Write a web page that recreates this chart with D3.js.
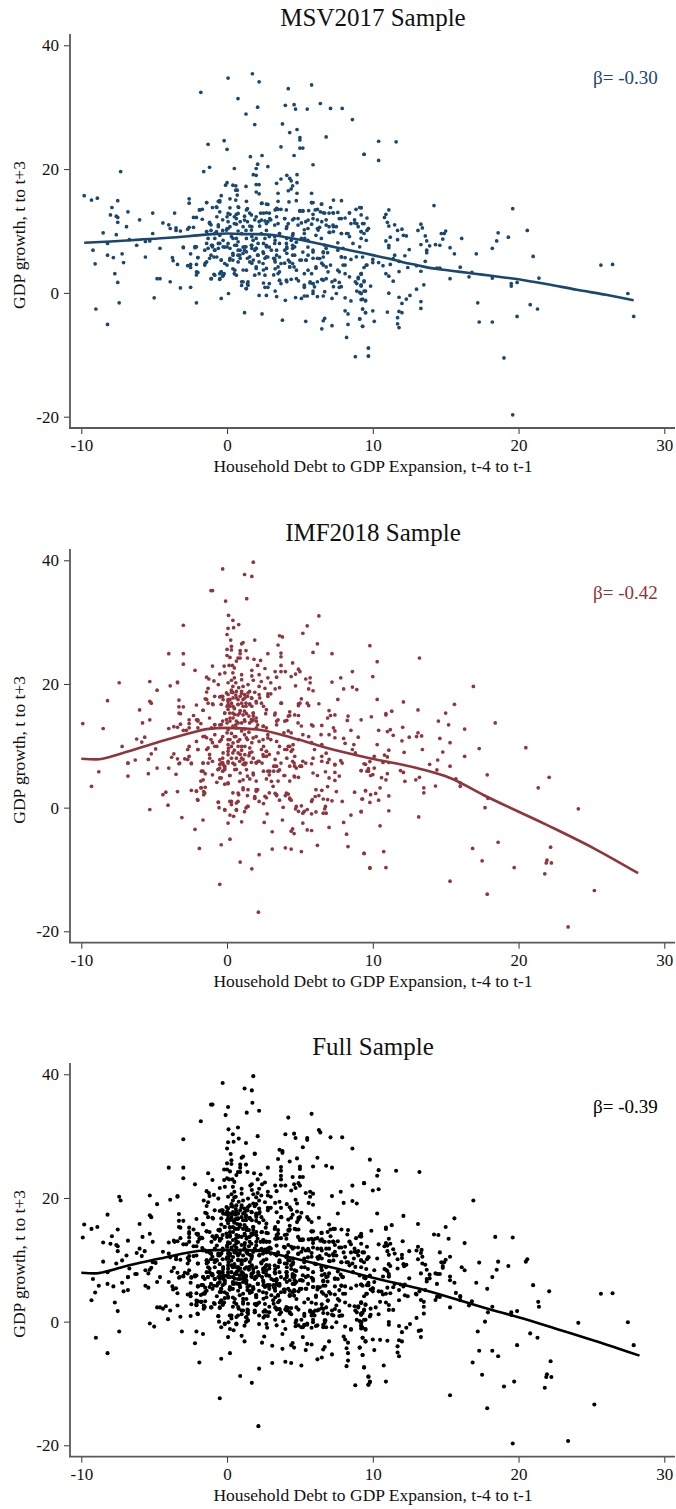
<!DOCTYPE html>
<html>
<head>
<meta charset="utf-8">
<script src="https://cdn.jsdelivr.net/npm/d3@7"></script>
<style>
body { margin: 0; background: #fff; }
text { font-family: "Liberation Serif", serif; fill: #111; }
</style>
</head>
<body>
<div id="container"></div>
<script>
// tick labels
var xTicks = [-10, 0, 10, 20, 30];
var yTicks = [-20, 0, 20, 40];
var xLabel = "Household Debt to GDP Expansion, t-4 to t-1";
var yLabel = "GDP growth, t to t+3";

// [debt expansion, gdp growth]
var msvPoints = [
[.07,34.7],[1.74,35.4],[2.2,34.1],[-1.8,32.4],[4.2,33],[5.8,33.6],[.75,31.4],[6.4,30.6],[2.1,30],[4,30.3],[4.6,30.4],[4.7,29.7],[5.5,29.7],[7.1,29.8],[7.9,29.8],[1.3,28.9],[8.6,28],[1.9,27.2],[3.8,27.3],[4.8,26.4],[4.3,25.9],[5,25.1],[5,24.7],[6.8,25.2],[-.2,24.6],[-1.3,24],[3.7,23.6],[5,23.4],[5.2,23.4],[0,23.2],[9.4,22.4],[2.4,22.2],[1.6,22],[4.6,22.2],[2.1,20.8],[5.9,20.7],[2,20.1],[2.8,20.4],[.5,20.1],[-1.2,20.3],[-1.6,19.6],[-7.3,19.6],
[1.8,19.1],[2,19],[4.1,19],[4.8,19.1],[4.3,18.5],[3.7,18.4],[4.4,18.1],[0,17.8],[3.4,17.7],[4.8,17.8],[2,17.5],[2.2,17.5],[-.1,17.4],[.4,17.4],[.6,17.3],[1.3,17.2],[4.5,17.3],[.6,16.6],[.7,16.6],[4.4,16.8],[4.2,16.5],[3.5,16.1],[2,16.3],[2.2,16],[.7,15.8],[4.8,16.1],[5.8,16.1],[-.4,15.7],
[-9.8,15.7],[-9.3,15],[-8.9,15.3],[-7.5,14.9],[-7.9,13.8],[-8,12.6],[-7.6,12.4],[-7.5,12.2],[-6.8,13.1],[-5.1,12.9],[-3.6,12.9],[-7.5,11.4],[-6,11.8],[-6.9,10.7],[-8.5,9.7],[-7.6,9.4],[-4.4,11.3],[-4,11],[-3.9,10.4],[-3.5,10.5],[-3.5,10.1],[-3.2,10],[-5.1,9.6],[-6.7,8.6],[-8.2,8],[-5.6,8.3],[-5.3,8.4],
[-2.6,15.2],[-2.6,14.5],[-1.4,14.6],[-.5,14.9],[-.5,14.7],[.2,15.2],[.6,15],[-1,13.8],[-.7,13.8],[-1.9,13.4],[-1.7,13.5],[-2.3,12.2],[-2.1,12.2],[-1.7,11.9],[-2.7,10.3],[-2.6,10.6],[-2.3,10.6],
[.2,13.75],[.8,13.8],[1.4,13.6],[2.4,14.5],[2.8,14.3],[3.3,13.4],[3.5,13.5],[3.7,13.5],[4.25,14.7],[4.75,14.9],[5.8,14.6],[5.9,14.6],[6.5,14.35],[7.3,15],[7.85,14.9],[7.1,13.8],[9.2,13.75],[8.85,13.5],[6.05,13.4],[6.2,13.5],[5,13.2],[5.2,13.2],[5.6,13.3],[6.4,13.1],[6.7,12.9],[7,12.9],[7.3,12.9],[7.6,13],[8.4,12.9],[2.3,12.9],[2.5,12.9],[2.9,12.9],[1.2,12.4],[1.55,12.9],[.2,12.7],[.64,12.7],[.5,12.3],[0,12.3],[-.7,12.3],[-1.2,11.4],[-1.1,11],[-.6,11],[-.3,11.8],[.07,11.5],[.2,10.7],[.5,11.2],[.9,11.5],[1.1,10.7],[1.4,11.5],[1.7,10.7],[1.9,11.8],[2.2,11.5],[2.6,11.65],[2.8,11.5],[3,11.8],[3.4,12.3],[3.5,11.2],[3.95,12],[4.1,10.7],[4.5,11.8],[4.6,12],[5.1,11.3],[5.4,11.5],[5.3,10.2],[5.55,10.4],[5.9,12],[6.2,11.8],[6.5,11.5],[6.8,11.8],[7,10.7],[7.3,10.7],[7.5,10.7],[7.7,12],[8.1,12.1],[8.5,11.2],[8.75,11.8],[8.9,11.2],[9,10.7],[9.3,11.2],[9.7,10.4],[9.2,9.9],[9.4,9.6],[8.2,9.6],[7.85,9.6],[9.2,8.8],[9.55,8.5],[8.4,9.1],[7.3,9.9],[7,9.8],[6.2,10.4],[6.35,10.6],
[-1.4,9.9],[-1.1,10.1],[-.85,9.6],[-.5,9.3],[-.3,10.1],[0,10.4],[.3,9.1],[.64,8.8],[1,9.6],[1.3,10.1],[1.7,9.1],[2,8.8],[2.35,9.6],[2.7,10.1],[2.9,9.1],[3.3,8.5],[3.6,9.6],[4.1,8.8],[4.5,9.3],[4.75,8.2],[5.1,8.8],[5.55,8.5],[6.1,9.3],[-1.4,8],[-1,7.7],[-.6,8],[-.16,7.4],[.2,7.2],[.64,7.7],[1.1,7.4],[1.7,7.7],[2,7.2],[2.5,8],[2.9,7.4],[3.6,8],[4.1,7.2],[4.5,7.7],[5.55,7.4],[-3,7.4],[-2.2,7.5],
[-9.2,6.9],[-9.05,4.7],[-9,-2.6],[-8.2,-5.1],[-8.2,6.1],[-7.8,5.7],[-7.2,6.3],[-7.1,4.9],[-7.7,3.1],[-7.5,1.7],[-7.4,-1.6],[-6.2,7.7],[-5.6,5.8],[-4.6,7.2],[-4.8,2.3],[-4.6,2.3],[-5,-.8],[-3.9,1.8],[-3.75,5.7],[-3.7,5.2],[-3.4,4.6],[-3.2,.8],[-2.5,.9],[-2.1,-1.6],[-3,7.3],[-2.5,6.3],[-2.2,7.3],[-2,5.7],[-2.1,4.6],[-2.7,4.4],[-2.5,4.6],[-2.5,4.1],[-2,3.3],[-2.1,2.9],[-1.5,4.8],[-1.1,2.3],[-.9,3],[-.5,2.3],[-.4,-.9],[.1,-.1],[-.4,3.4],[-.2,3.1],[-.5,3.1],[-.3,2.7],[1.2,-3.2],[2.4,-3.4],[3.8,-4.4],[5.4,-4.6],[6.5,-5.8],[6.6,-4.5],[6.7,-4.1],[7.2,-5.3],[8.2,-7.2],[8.3,-5.1],[8.8,-10.3],[9.7,-10.2],[9.7,-8.9],[9.3,-5.4],[9.1,-4.2],[8.1,-2.9],[8.3,-3.4],[9.3,-2.6],[9.5,-3.2],
[2.2,-.4],[2.7,-.4],[3.4,-.6],[3.3,.3],[4,-1.2],[4.7,-.75],[5.1,-.9],[5.3,-.5],[5.5,-.5],[5.9,-.1],[6.2,-.6],[6.6,-.5],[5.9,.3],[6.7,.2],[7.2,-.9],[7.5,-.1],[8.1,-.8],[8.5,-1.3],[9.2,-1.1],[9.5,-1.2],[8.9,.3],[9.1,.1],[9.2,-.1],[9.5,.3],[1,1.2],[1.3,.7],[1.4,1.5],[1.1,1.8],[2.5,1.6],[2.9,1.5],[2.6,.9],[2.8,.9],[3.6,2],[3.7,1.5],[4.1,1.8],[4.4,2.2],[4.9,1.95],[5.3,1.25],[5.3,.9],[5.7,1.6],[5.9,1.5],[6,.98],[6.2,1.8],[6.5,2.2],[6.8,2.3],[7.2,1.8],[7.3,1],[7.7,.9],[7.7,1.7],[8.8,1.8],[8.9,1.5],[9.2,1.25],[9.4,1.95],[9.2,3.1],[9,2.5],[8.4,2.6],[8.1,3.1],[7.7,3.4],[7.1,4.5],[6.8,4.2],[6.5,4.8],[6.6,5.8],[6.9,6.5],[6.6,6.5],[6.1,4],[5.8,3.1],[5.3,3.1],[4.6,4.2],[4.3,4.2],[3.95,4.8],[3.6,3.4],[3.3,3.9],[3.2,2.9],[2.5,3.7],[2.2,3.1],[2,4.2],[1.7,4.8],[1.1,3.7],[.5,3.1],[.4,3.9],[0,4.5],
[-1,7.45],[-.85,6.9],[-1.1,6.1],[-.7,5.8],[-.4,5.3],[-.16,4.75],[.2,5.6],[.4,6.4],[.75,6.1],[1.1,6.4],[1.4,5.6],[1.8,5.3],[2.1,6.1],[2.5,6.4],[2.8,5.8],[3.2,5.6],[3.4,6.1],[3.7,4.75],[4.1,6.4],[4.5,6.1],[5,5.3],[5.4,5.3],[5.9,5.6],[6.2,5.6],[7.85,5.8],[8.1,5.7],[8.5,5.4],[8.1,4.5],[9.55,4.5],[9.3,5.8],[0,7.45],[.64,7.7],[1.3,7.45],[2,7.2],[2.7,7.45],[3.4,6.9],[4.1,7.45],[4.5,7.2],[5.2,6.6],[5.9,6.6],[6.8,7.2],[.9,6.9],[1.2,6.9],[1.7,7.2],[.9,5.6],[.4,5.3],[2.2,5],[2.6,5.6],[3.3,5],[3.6,5.8],[4.2,5.3],[4.5,4.75],[-.6,7.2],[-1.3,7.2],[-1.2,5.6],[-.9,5.8],
[10.4,24.5],[11.6,24.4],[9.4,22.4],[10.4,21.4],[14.2,14.1],[19.6,13.6],[11.1,13.4],[9.2,13.8],[10.9,12.7],[10.8,12.2],[9.6,12.1],[11,11.4],[11.1,10.8],[11.5,11],[13.3,11.1],[13.4,10.5],[9.4,11.2],[9.7,10.4],[9.6,10.1],[11.7,10.1],[12,10.3],[13.1,10.1],[14.7,9.6],[14.9,9.6],[15,10],[20.6,10.1],[18.6,9.7],[19.3,9],[18.5,8.4],[18.2,7.2],[16.1,8.8],[13.6,9.2],[14.8,8.7],[13.7,8.4],[13.3,7.8],[13.9,7.6],[14.3,7.8],[14.6,7.7],[15.3,7.3],[15.6,6.3],[17.1,6.3],[13.7,6.9],[13.7,6.5],[12.5,7],[12.2,6],[12.1,9.3],[12.3,9.2],[11.2,9],[10.9,8.4],[11.7,8.6],[11.1,7.7],[11.1,7.3],[11.5,6.1],[11.4,5.55],[11.8,5.1],[11.2,4.6],[10.7,4.4],[10.4,4.9],[10,5.4],[10,4.9],[9.4,4.1],[9.6,4.5],[13.6,5.1],[13,4.4],[12.4,4.1],[13.3,3.5],[11.8,3.45],[10.9,3.1],[11.1,2.7],[11.4,1.9],[13.5,1.3],[14.4,4],[14.6,4],[16,4.15],[15.3,2.3],[16.6,2.6],[16.8,3.3],[18.2,2.4],[19.5,1.5],[19.5,1.1],[19.9,1.7],[21.4,2.4],[21,5.9],[25.65,4.5],[26.45,4.6],[27.5,-.1],[27.9,-3.8],[17.2,-1.6],[17.3,-4.7],[18.2,-4.7],[20.8,-1.9],[21.3,-2.6],[19.9,-3.8],[19,-10.5],[19.6,-19.7],[9.85,1.1],[9.2,3],[9.4,1.8],[9.2,1.1],[9.4,.3],[9.2,-.1],[9.3,-1],[9.5,-1.3],[9.3,-2.6],[9.5,-3.2],[10,-2.9],[9.1,-4.2],[10.1,-4.6],[9.3,-5.4],[9.7,-8.9],[9.7,-10.2],[11.1,-.05],[11,-3.1],[11.8,-.7],[12,-1.7],[11.8,-3],[12,-3.2],[11.7,-4],[11.7,-5],[11.8,-5.6],[12.3,-1],[12.55,-.4],[13,.6],[13.3,-1.4],[13.3,-2.5]
];

var msvCorePoints = [
[-1.4,14.6],[-.6,14.8],[.76,13.9],[1.33,14.8],[2.36,14.46],[2.7,14.35],[3.5,14.8],[5.8,14.6],[6.47,14.35],[9.1,13.8],[-1.87,13.4],[-.73,13.9],[-.5,13.1],[.07,12.84],[.76,12.84],[1.33,13.4],[1.67,12.6],[2.7,12.95],[3.4,13.65],[4.07,13.4],[4.99,13.3],[5.2,13.3],[5.9,12.7],[6.6,12.95],[7.27,12.95],[8.4,12.95],[9.2,12.6],[.64,12],[1.2,11.76],[2,12.3],[2.36,11.76],[2.93,12],[3.96,12],[4.2,11.2],[4.87,12],[5.56,11.76],[5.8,11.1],[6.8,10.95],[7.27,10.95],[8.76,11.3],[7.84,12],[-1.2,11.2],[-.6,10.7],[.07,10.4],[.64,11.1],[1.56,10.8],[2.24,10.8],[2.7,11.2],[3.27,10.95],[4.07,10.4],[4.87,10.95],[6.25,10.15],[7.05,9.77],[7.84,9.6],[8.3,9.6],[9.2,9.9],[-1.4,9.9],[-.73,9.9],[-.04,10.15],[.76,10],[1.67,10.15],[3.6,9.6],[4.53,9.6],[5.3,9.6],
[-1.3,8.8],[-.84,8.8],[-.27,8.5],[.41,8.8],[.76,8.26],[1.33,8.8],[1.79,8.5],[2.6,8.8],[3.27,9.07],[4.4,8.5],[5.33,8.8],[6.47,8.8],[7.6,8.1],[8.64,8],[-2.1,7.45],[-1.07,7.7],[-.5,8],[.07,8],[.53,7.7],[1.2,7.45],[1.67,7.7],[2.13,8],[2.7,7.7],[3.27,8],[4.07,8],[4.64,7.45],[6.7,7.7],[7.6,6.9],[9.1,7.45],[-1.53,6.9],[-.84,6.9],[-.27,7.45],[.76,6.9],[1.33,6.64],[1.9,6.9],[2.47,6.64],[3.04,6.9],[3.96,6.9],[5.9,6.9],[6.6,6.64],[7.96,7.2],[.41,6.1],[.87,6.1],[1.56,5.83],[2.13,6.1],[2.7,5.83],[3.27,5.56],[4.64,6.1],[5.56,6.1],[6.36,5.56],[7.84,5.83],[8.87,5.83],[-2,5.7],[-1.4,5],[-1.53,4.5],[-.4,5.3],[.18,5.3],[.76,5],[1.56,5],[2.47,4.75],[3.27,5.3],[4.3,5],[5.1,5.3],[5.44,5.3],[6.6,4.5],[7.96,4.5],[-2.1,3.4],[.53,3.67],[1.33,3.67],[2,3.95],[2.7,3.95],[3.5,4.2],[4.3,4.2],[6.1,4.2],[-.84,2.86],[-.4,3.4],[-.27,2.86],[.64,2.86],[1.9,2.86],[2.6,2.86],[3.5,3.13],[4.76,3.67],[5.56,3.67],[6.93,3.4],[7.6,3.67],[9.2,3.13],[-1.07,2.3],[-.5,2.2],[1,1.8],[1.44,1.8],[1.44,1.25],[3.6,2.05],[4.07,2.05],[4.76,2.3],[5.7,1.8],[5.9,1.5],[6.6,2.05],[7.4,2.05],[9,2.3],[7.84,1],[9.2,1.25],[1.33,.7]
];

var imfPoints = [
[1.8,39.7],[-.3,38.6],[1.2,37.7],[1.7,37.4],[-1.1,35.1],[-1,35.1],[-.1,33.4],[1.35,33.8],[.1,31.1],[.4,30.3],[.8,29.6],[.45,29.1],[.07,29],[0,28],[-3,29.5],[5.5,29.4],[6.3,31],[5.2,28.2],[3.6,27.8],[3.8,27.6],[1.9,27.1],[.25,27.1],[6.2,26.5],[3.5,26.3],[1,26.5],[1.1,26.7],[.3,26.1],[0,25.6],[.3,25.5],[.9,25.4],[1.3,25.4],[.9,24.9],[-4,24.9],[-3,24.9],[2.8,24.9],[3.7,25],[5.9,25.1],[7.2,24.9],[9.8,26.2],[3.7,24.4],[0,24.6],[.2,24.3],[.75,24.2],[.9,24.2],[1.4,24.2],[1.85,24],[2.3,23.8],[.64,23.7],[-3,23.2],[-.2,22.9],[-1,22.9],[.14,23],[.37,23],[.5,22.6],[2.1,23],[3.7,23],[4.5,23.4],[2.6,22.5],[3.7,22],[3.3,22],[4,22],[1.7,22.2],[-2.2,22.2],[4.9,22.4],[5,22],[8.6,22],[4.7,21.6],[4.4,21.2],[7.8,21],[-.5,21.6],[-.15,21.8],[.4,21.8],[1,21.5],[1.7,21.3],[2.2,21.5],[3.4,21.1],[5.4,20.8],[5.7,21],[-1.4,21.1],[-1.25,20.8],[-.9,20.5],[-.6,19.9],[.3,20.6],[.5,21],[1,20.7],[1.8,20.6],[2.35,20.4],[2.8,21],[5.7,20.2],[7.2,20.3],[4.7,19.7],[-3.4,20.2],[-3.4,20.3],[-3.9,19.7],[-5.3,20.4],[-7.4,20.2],[-4.8,19],[-1.3,19.3],[-1.4,18.7],[.07,20.2],[.4,19.6],[.6,20.2],[1.1,19.6],[1.44,19.9],[2.2,19.6],[2.6,19.3],[3,20.2],[3.3,19.2],[3.6,19.4],[5.6,19.2],[5.9,18.9],[8,19.2],[8.6,19.5],[8.9,19.1],
[-8.2,17.3],[-5.3,17.2],[-5.2,16.9],[-3.3,17.4],[-1.5,17.6],[-.85,18],[-.5,17.9],[-.3,18],[.07,18.3],[.6,18.2],[.9,18],[1.2,18.3],[1.7,17.7],[2.2,18.3],[2.8,18.4],[3,18.4],[5.1,17.6],[7.6,17.5],[5.5,16.9],[5.6,16.5],[4.9,16.8],[4.9,16.5],[6.3,16.8],[3.7,16.9],[-2.1,16.6],[-3.3,16.3],[-3,16.3],[-1,16.8],[-.4,16.7],[.07,17.2],[.2,16.4],[.5,16.1],[.75,16.7],[1.1,17.5],[1.55,16.8],[2,17.2],[2.5,16.4],[-6,15.8],[-1.65,15.75],[-3.3,15.3],[-3.2,15.2],[-2.3,14.9],[-1.2,14.5],[-.16,15.3],[.4,15.3],[.75,15],[1.2,15.6],[1.8,15.3],[2.65,15.2],[3.3,15.3],[3.5,14.2],[4.3,15.5],[4.3,14.9],[4.9,14.9],[7,15.7],[7.4,15],[7.1,14.9],[8.3,14.8],[8.25,14.1],[9.2,14.2],[6.9,14.5],[-5.8,13.7],[-5.3,14.2],[-9.9,13.6],[-8.5,12.8],[-4,12.8],[-3.65,13.1],[-3.4,13],[-3.2,13.5],[-2.6,14.2],[-2.6,13.6],[-2.6,12.9],[-2.1,14.2],[-2,14],[-1.8,13.6],[-2,12.9],[-3,12.5],[-2.8,12.5],[-.85,13.4],[-.3,14],[.2,14.5],[.64,14],[1.2,14.2],[1.7,14],[2,14.5],[2.5,13.2],[3.4,13.4],[4.1,14.1],[5.1,13.2],[5.8,13.4],[5.9,13.2],[6.5,13.3],[7.3,12.9],[7.4,12.4],[8.5,12.5],[6.45,11.8],[7,11.8],[7.4,11.3],[8,11.2],[9,11.4],[8.1,10.4],[8.7,10.2],[-5.65,11.4],[-6.2,11.1],[-5.85,10.6],[-7.2,9.9],[-5.2,8.7],[-4.9,9.5],[-3.65,8.7],[-5.4,7.8],[-6.3,7.7],[-6.8,7.2],[-3.8,8.15],[-3.4,7.9],[-3.3,7.1],[-2.9,7.9],
[-.5,13.4],[0,13.7],[.4,13.2],[1,13.7],[1.55,13.7],[1.8,14.2],[2.1,13.4],[.07,15.9],[.3,16.9],[.64,17.75],[1,16.9],[1.3,16.4],[1.7,16.4],[1.8,14.8],[0,16.4],[.2,17.5],[.4,18.6],[1,18.8],[1.4,18],[1.55,18.8],
[-1.65,11.5],[-1.4,11.3],[-1.1,11],[-1,10.5],[-.7,9.9],[-.5,10.7],[-.3,11.5],[0,12.1],[.2,11],[.3,9.9],[.5,11.5],[.75,10.7],[1,9.9],[1.2,11.8],[1.4,11],[1.7,10.5],[2,11.5],[2.2,10.7],[2.5,9.9],[2.8,11.8],[3,11],[3.4,10.7],[3.6,9.9],[3.9,12.1],[4.2,12.4],[4.4,12.1],[4.3,9.9],[4.1,9.4],[4.5,9.4],[4.9,11],[5.2,11.8],[5.6,11.5],[5.8,10.5],[6,9.4],[6.5,10.2],[6.8,8.8],[6.5,8.3],[7,7.8],[7.4,7],[7.8,7.6],[8.6,9.4],[8.8,8.85],[9.4,7.1],[-2.6,9.9],[-2.7,9.4],[-2,9.4],[-1.4,9.4],[-2.6,8.3],[-2.7,7.8],[-2.45,7.2],[-1.2,8.6],[-1,7.5],[-.3,8],[-.4,7.2],[-.5,6.4],[-.16,6.7],[.07,9.1],[.4,8.85],[.64,8],[.9,8.6],[1.1,7.8],[1.2,7.2],[1.55,8.85],[1.8,8],[2,7.2],[2.2,7.5],[2.5,8.3],[2.7,9.1],[2.9,8.6],[3.3,7.8],[3.5,8.85],[3.7,7.2],[4.1,8],[4.6,7.2],[5,6.7],[5.4,7.2],[5.9,8],
[-9.3,3.45],[-8.8,5.8],[-6.8,7.2],[-6.8,5.1],[-5.4,5.5],[-4.8,6.4],[-4,6.4],[-3.5,5.4],[-4.4,2.1],[-4.2,2.5],[-3.4,2.6],[-4.05,.4],[-5.3,-.3],[-3.1,-1.6],[-2.45,2.8],[-2.1,2.7],[-2,1.2],[-1.8,3.2],[-1.5,3.3],[-1.6,2.6],[-1.6,2.1],[-1.65,-2],[-2.2,-3.5],[-1.9,-6.6],[-.5,-12.4],[-.4,-6],[.2,-5.1],[.9,-8.8],[1.7,-9.9],[2.2,-7.6],[2.15,-16.9],[3.1,-6.7],[4,-6.5],[4.4,-6.7],[5.1,-7.1],[6.2,-6.1],[8.3,-6.3],[9.4,-7.4],[9.8,-9.8],[3.1,-3.9],[4.4,-3.8],[4.5,-3.45],[4.6,-4.2],[5.5,-3.6],[5.8,-3.7],[7,-3.2],[8.2,-4.3],[5.2,-2.5],[8,-2.4],[8.5,-1.2],[9.2,-.6],[9.3,1.4],[9.5,2.75],[8.75,2.5],[7.9,1],[7.5,2.6],[7.2,1.1],[6.9,1.3],[6.6,1.4],[6.9,3.4],[6.5,2.8],[6.3,1.95],[6.1,2.9],[6.05,1.8],[5.85,1.3],[5.8,1],[6.75,.2],[6.7,-.2],[6.6,-.9],[6.8,-.9],[6.1,-.7],[5.8,-1],[5.5,-.3],[5.3,-.6],[5.2,-.9],[5.1,.3],[4.75,.2],[4.7,-.2],[4.9,-.6],[4.3,1.4],[4.4,1.2],[4.2,2.2],[4,1.95],[3.85,.05],[3.8,-2],[3.6,1.2],[3.4,1.95],[3.3,2.3],[2.9,2.4],[2.7,1.6],[2.5,.65],[2.2,1],[1.9,1.5],[2.75,-1],[2.55,-2.4],[2.1,2.9],[2,2.65],[1.4,1.95],[1.1,2.9],[.8,2.1],[.75,1],[.4,2.4],[.3,1],[.3,.5],[-.6,.9],[-.55,0],[-.15,-.4],[.2,-1.2],[.45,-1.4],[.64,-.3],[1.2,-.65],[1.4,.2],[1,-2.3],[.07,-2.5],[1.9,1.8],[1.3,-.05],
[-1.65,5.9],[-1.5,5.5],[-1.8,4.3],[-.7,4.1],[-1,5.3],[-.6,6.2],[-.3,5.9],[-.16,6.4],[-.4,4.8],[.07,4],[-.16,3.8],[.2,5.2],[.64,6.2],[.9,5.6],[1.1,4.5],[1.4,5.1],[1.8,5.3],[2,4.3],[2.5,5.9],[2.8,5.9],[2.9,5.3],[3.2,5.9],[3.4,6.7],[3.6,6.1],[3.5,4.3],[3.9,5.2],[4.3,4.3],[4.75,6.4],[5.1,6.7],[4.6,5.1],[4.9,4.9],[5.9,5.6],[6.2,5.2],[6.75,5.8],[7,4.8],[7.4,5.7],[7.4,4.4],[7.7,5.1],[9.2,6],[9.7,5.9],[7.9,7.2],[7.4,6.9],[6.9,7.3],[6.5,7.5],[5.8,7.1],[5.2,7.5],[4.5,7.5],[4.3,6.7],[3.2,6.7],[2.4,7.2],[2,7.3],[1.3,7.2],[1.1,7],[.4,7.2],[.07,7.2],[-.3,7.3],[-.5,7],[-1.3,7.2],[-1.65,7.2],[-2.45,7.1],[-3.25,7.2],
[13.2,24.2],[10.3,23.6],[10,21.2],[16.9,19.6],[10.3,17.5],[12.1,17.1],[15.6,16.7],[13.1,15.8],[15,15.3],[11.3,15.6],[10.9,15.2],[10.9,15],[9.9,14.7],[14.5,14],[18.4,13.7],[15.2,13.4],[12.05,13],[11.2,12.6],[11,12.3],[10.4,12.5],[16.3,12.7],[13.1,12.1],[13.35,11.6],[13,11.5],[12.5,11.4],[11.4,11.7],[14.6,11.2],[12,10.8],[15.3,10.5],[10.3,10.2],[20.5,9.7],[17.3,9.55],[13.4,9.4],[11.1,9.3],[12.15,8.95],[14.8,9],[16.3,8.3],[10.8,8.5],[11,8.2],[10.1,8.3],[14.45,7.7],[13.9,7],[14.4,6.1],[15.3,6.7],[17.85,5.3],[22.1,4.9],[21.35,3.2],[15.7,4.65],[16,4],[16,3.45],[13.2,4.9],[12.95,4.5],[12.2,4.25],[11.9,6],[12.1,5.7],[11.1,7.3],[10.7,7.3],[9.8,7.45],[9.5,7],[9.2,6],[9.6,5.9],[9.7,6.3],[10.1,6.4],[10,5.35],[9.85,5.2],[10.6,4.85],[10.9,4.5],[11,5.5],[10.5,3.2],[9.5,2.75],[9.85,2.1],[10.2,2.3],[11.1,1.9],[9.25,1.4],[10.4,1.2],[9.8,.85],[9.2,-.7],[11.1,-.5],[13.15,-1.5],[10.5,-2.95],[13.5,3.2],[13.5,2.4],[14.3,3.5],[17.7,0],[17.9,1.5],[24.1,-.2],[22.2,-6.4],[18.6,-5.6],[16.85,-6.6],[17.5,-8.6],[19.7,-9.7],[21.95,-8.5],[21.9,-8.95],[22.25,-8.95],[21.8,-10.7],[9.4,-7.4],[10.75,-7.1],[9.8,-9.7],[10.9,-9.7],[15.3,-11.9],[17.85,-14],[25.2,-13.4],[23.4,-19.3]
];

var imfCorePoints = [
[-.04,18.55],[.3,18.66],[.64,18.8],[.99,18.44],[1.44,18.55],[1.9,18.66],[-.27,17.47],[.07,17.47],[.41,17.74],[.76,17.47],[1.22,17.74],[1.67,17.74],[2.24,17.74],[.07,16.66],[.41,16.4],[.76,16.66],[1.1,16.4],[1.56,16.66],[2.01,16.93],[-.16,15.3],[.18,15.3],[.53,15.05],[.87,15.3],[1.33,15.2],[1.79,15.3],[-.04,14.24],[.41,14.5],[.76,13.7],[1.22,13.97],[1.67,14.24],[2.01,13.97],[2.47,13.16],[-.84,13.43],[-.39,13.43],[-1.07,12.9],[.07,12.6],[.64,12.9],[1.22,12.7],[2.01,12.9],[2.7,12.9],[-1.53,11.54],[-.84,11.8],[-.39,11],[.07,11],[.41,10.46],[.87,11],[1.33,11.27],[1.79,11.27],[2.47,11],[2.8,11.27],[.07,10.19],[.76,9.92],[1.22,9.92],[1.56,9.65],[2.36,9.4],[2.7,9.1],[-.84,9.92],[-1.3,9.65],[-2,9.4],[4.2,9.92],[4.53,10.19],[4.4,9.1],[4.64,8.3],[3.96,9.4],[-.27,8.84],[.07,8.57],[.76,8.84],[1.22,8.57],[2.47,8.57],[2.7,8.3],[-.5,7.76],[-.27,6.95],[.07,7.5],[.53,6.95],[.87,7.5],[1.22,6.95],[1.67,7.33],[2.13,7.5],[-.62,6.15],[-.16,6.15],[.53,6.15],[1.33,6.15],[1.79,5.6],[3.27,6.7],[3.5,5.9],[2.93,5.9],[3.96,5.2],[2.7,4.64],[3.04,4.26],[3.16,3.45],[4.64,6.7],[5.1,6.7],[4.64,4.96],[-.5,4.8],[.18,5.2],[.87,4.26],[1.56,4.64],[.07,3.88],[1.1,3.2],[2,2.9],[1.44,2.9],[.76,2.37],[.19,1],[1.9,1.56],[2.6,1.83],[3.4,2.1],[4.07,2.37],[4.3,1.56],[.64,.75],[1.44,.2],[-.6,.86],[-.16,-.33],[.64,-.44],[-1.76,5.9],[-1.64,4.5],[-1.76,3.2],[-1.53,2.37],[-2.1,2.64],[-2.03,1.3],[-1.19,8],[-1.64,7.2],[-2.1,10.7],[4.2,14.8],[4.64,15],[3.96,14],[4.87,13.7],[3.27,15],[3.4,14],[-2,14.2],[-1.4,17.5],[-1.3,16.9],[-.96,16.66],[-.39,18],[2.36,16.9],[2.8,18],[2.7,15.85],[3.73,16.9],[5,16.9],[-1.64,15.75],
[.3,12],[.6,11.5],[1,12.4],[1.5,12.2],[.1,9.6],[.5,9.3],[1,9.3],[1.7,9],[.3,8],[1,8],[1.5,8.4],[.2,14],[.6,13.4],[1.1,15],[1.5,14.8],[.5,16],[.9,15.7],[1.3,16.9],[.3,19],[.8,19.4]
];

// the full sample is both of the others together
var fullPoints = msvPoints.concat(msvCorePoints, imfPoints, imfCorePoints);

// smoothed lines
var msvLine = [[-9.8,8.1],[-8,8.3],[-6,8.6],[-4,8.9],[-2,9.3],[-1,9.5],[0,9.6],[1,9.5],[2,9.5],[3,9.4],[4,9],[5,8.6],[6,8.1],[7,7.6],[8,7.1],[9,6.6],[10,6.1],[11,5.6],[12,5],[13,4.5],[14,4],[15,3.7],[16,3.4],[17,3.1],[18,2.8],[19,2.5],[20,2.2],[21,1.8],[22,1.4],[24,.5],[26,-.3],[27.9,-1.2]];
var imfLine = [[-10,7.9],[-9,7.8],[-7.2,8.8],[-4.85,10.5],[-2.3,12.2],[-1.4,12.7],[0,12.9],[2.2,12.6],[3.4,12],[4.9,11],[6.8,9.7],[9.8,8],[13.2,6.3],[15.3,4.8],[17.8,1.8],[21.9,-2.75],[25.1,-6.5],[28.2,-10.6]];
var fullLine = [[-10,7.9],[-9.1,7.8],[-6.9,9],[-4.6,10.2],[-1.6,11.5],[0,11.6],[2.2,11.5],[3.4,10.9],[5.7,9.6],[8,8.3],[10,7.1],[13.7,5],[18,2],[20,.7],[22.9,-1.4],[25.1,-3],[28.3,-5.5]];

var titles = ["MSV2017 Sample", "IMF2018 Sample", "Full Sample"];
var betas = ["β= -0.30", "β= -0.42", "β= -0.39"];
var colors = ["#1a476f", "#90353b", "#000000"];
var allPoints = [msvPoints.concat(msvCorePoints), imfPoints.concat(imfCorePoints), fullPoints];
var allLines = [msvLine, imfLine, fullLine];

// pixel layout of each panel: y of the 40 tick, of the -20 tick, of the axis and of the top
var panels = [
	{y40: 45.3, yM20: 416.7, axis: 428, top: 34, title: 26, beta: 84, r: 1.85},
	{y40: 560.3, yM20: 931.3, axis: 942.7, top: 549, title: 541, beta: 599, r: 1.85},
	{y40: 1074.3, yM20: 1445.3, axis: 1456.7, top: 1063, title: 1055, beta: 1113, r: 2.05}
];
var axisLeft = 70, axisRight = 675;

var svg = d3.select("#container").append("svg")
	.attr("width", 676)
	.attr("height", 1509)
	.style("display", "block");

var x = d3.scaleLinear().domain([-10, 30]).range([81.3, 664.3]);

panels.forEach(function(p, i) {
	var y = d3.scaleLinear().domain([-20, 40]).range([p.yM20, p.y40]);
	var g = svg.append("g");

	// axes
	var xAxis = d3.axisBottom(x).tickValues(xTicks).tickSize(6).tickPadding(5).tickFormat(d3.format("d"));
	var yAxis = d3.axisLeft(y).tickValues(yTicks).tickSize(6).tickPadding(5).tickFormat(d3.format("d"));

	var gx = g.append("g").attr("transform", "translate(0," + p.axis + ")").call(xAxis);
	gx.select(".domain").remove();
	gx.selectAll("text").attr("font-size", 17).text(function(d) { return d; });
	gx.selectAll("line").attr("stroke", "#333");

	var gy = g.append("g").attr("transform", "translate(" + axisLeft + ",0)").call(yAxis);
	gy.select(".domain").remove();
	gy.selectAll("text").attr("font-size", 17).text(function(d) { return d; });
	gy.selectAll("line").attr("stroke", "#333");

	g.append("line").attr("x1", axisLeft - 1).attr("x2", axisRight).attr("y1", p.axis).attr("y2", p.axis)
		.attr("stroke", "#595959").attr("stroke-width", 1.8);
	g.append("line").attr("x1", axisLeft).attr("x2", axisLeft).attr("y1", p.top).attr("y2", p.axis)
		.attr("stroke", "#595959").attr("stroke-width", 1.8);

	// dots
	g.selectAll(".dot")
		.data(allPoints[i]).enter()
		.append("circle")
			.attr("class", "dot")
			.attr("r", p.r)
			.attr("cx", function(d) { return x(d[0]); })
			.attr("cy", function(d) { return y(d[1]); })
			.style("fill", colors[i]);

	// smoothed line
	var line = d3.line()
		.x(function(d) { return x(d[0]); })
		.y(function(d) { return y(d[1]); })
		.curve(d3.curveMonotoneX);
	g.append("path")
		.attr("d", line(allLines[i]))
		.attr("fill", "none")
		.attr("stroke", colors[i])
		.attr("stroke-width", 2.6);

	// texts
	g.append("text").attr("x", 373).attr("y", p.title)
		.attr("text-anchor", "middle").attr("font-size", 25).text(titles[i]);
	g.append("text").attr("x", 373).attr("y", p.axis + 44)
		.attr("text-anchor", "middle").attr("font-size", 17.5).text(xLabel);
	g.append("text")
		.attr("transform", "translate(25," + ((p.y40 + p.yM20) / 2 + 4) + ") rotate(-90)")
		.attr("text-anchor", "middle").attr("font-size", 17.5).text(yLabel);
	g.append("text").attr("x", 593).attr("y", p.beta)
		.attr("font-size", 19).style("fill", colors[i]).text(betas[i]);
});
</script>
</body>
</html>
